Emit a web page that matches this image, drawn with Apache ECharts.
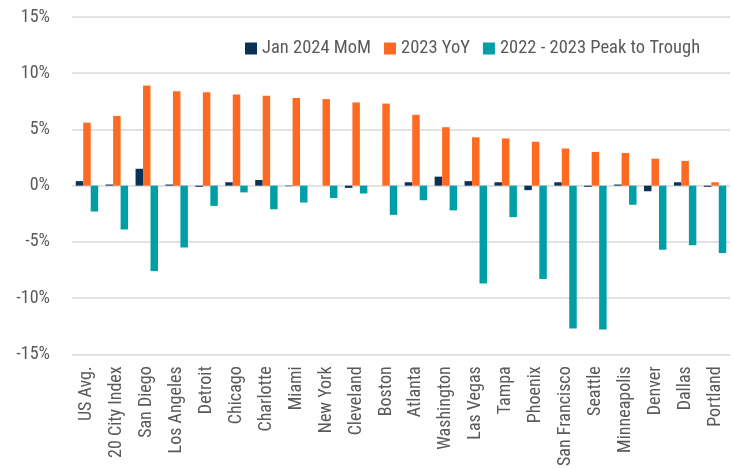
<!DOCTYPE html>
<html>
<head>
<meta charset="utf-8">
<script src="https://cdn.jsdelivr.net/npm/echarts@6/dist/echarts.min.js"></script>
<style>
html, body { margin: 0; padding: 0; background: #fff; }
#main { width: 732px; height: 469px; }
</style>
</head>
<body>
<div id="main"></div>
<script>
var cities = ['US Avg.', '20 City Index', 'San Diego', 'Los Angeles', 'Detroit', 'Chicago', 'Charlotte', 'Miami',
    'New York', 'Cleveland', 'Boston', 'Atlanta', 'Washington', 'Las Vegas', 'Tampa', 'Phoenix',
    'San Francisco', 'Seattle', 'Minneapolis', 'Denver', 'Dallas', 'Portland'];
var momJan2024 = [0.4, 0.1, 1.5, 0.1, -0.1, 0.3, 0.5, -0.05, 0, -0.2, 0, 0.3, 0.8, 0.4, 0.3, -0.4, 0.3, -0.1, 0.1, -0.5, 0.3, -0.1];
var yoy2023 = [5.6, 6.2, 8.9, 8.4, 8.3, 8.1, 8.0, 7.8, 7.7, 7.4, 7.3, 6.3, 5.2, 4.3, 4.2, 3.9, 3.3, 3.0, 2.9, 2.4, 2.2, 0.3];
var peakToTrough = [-2.3, -3.9, -7.6, -5.5, -1.8, -0.6, -2.1, -1.5, -1.1, -0.7, -2.6, -1.3, -2.2, -8.7, -2.8, -8.3, -12.7, -12.8, -1.7, -5.7, -5.3, -6.0];

var font = '"Roboto Condensed", "DejaVu Sans Condensed", sans-serif';
var textColor = '#5a5a5a';

var myChart = echarts.init(document.getElementById('main'));
var option = {
    animation: false,
    textStyle: { fontFamily: font },
    legend: {
        top: 34,
        left: 240,
        itemWidth: 12,
        itemHeight: 12,
        itemGap: 13,
        icon: 'rect',
        textStyle: { fontFamily: font, fontSize: 18.5, color: textColor },
        data: ['Jan 2024 MoM', '2023 YoY', '2022 - 2023 Peak to Trough']
    },
    grid: {
        left: 72,
        right: 2,
        top: 17,
        bottom: 113
    },
    xAxis: {
        type: 'category',
        data: cities,
        axisLine: { onZero: false, show: false },
        axisTick: { show: false },
        axisLabel: {
            rotate: 90,
            interval: 0,
            margin: 12,
            fontFamily: font,
            fontSize: 18,
            color: textColor
        }
    },
    yAxis: {
        type: 'value',
        min: -15,
        max: 15,
        interval: 5,
        axisLine: { show: false },
        axisTick: { show: false },
        axisLabel: {
            formatter: '{value}%',
            margin: 22,
            fontFamily: font,
            fontSize: 18,
            color: textColor
        },
        splitLine: { lineStyle: { color: '#d9d9d9', width: 1.5 } }
    },
    series: [
        {
            name: 'Jan 2024 MoM',
            type: 'bar',
            barGap: 0,
            barCategoryGap: '25%',
            itemStyle: { color: '#0c3157' },
            data: momJan2024
        },
        {
            name: '2023 YoY',
            type: 'bar',
            barGap: 0,
            barCategoryGap: '25%',
            itemStyle: { color: '#ff6a22' },
            data: yoy2023
        },
        {
            name: '2022 - 2023 Peak to Trough',
            type: 'bar',
            barGap: 0,
            barCategoryGap: '25%',
            itemStyle: { color: '#009fa8' },
            data: peakToTrough
        }
    ]
};
myChart.setOption(option);
</script>
</body>
</html>
